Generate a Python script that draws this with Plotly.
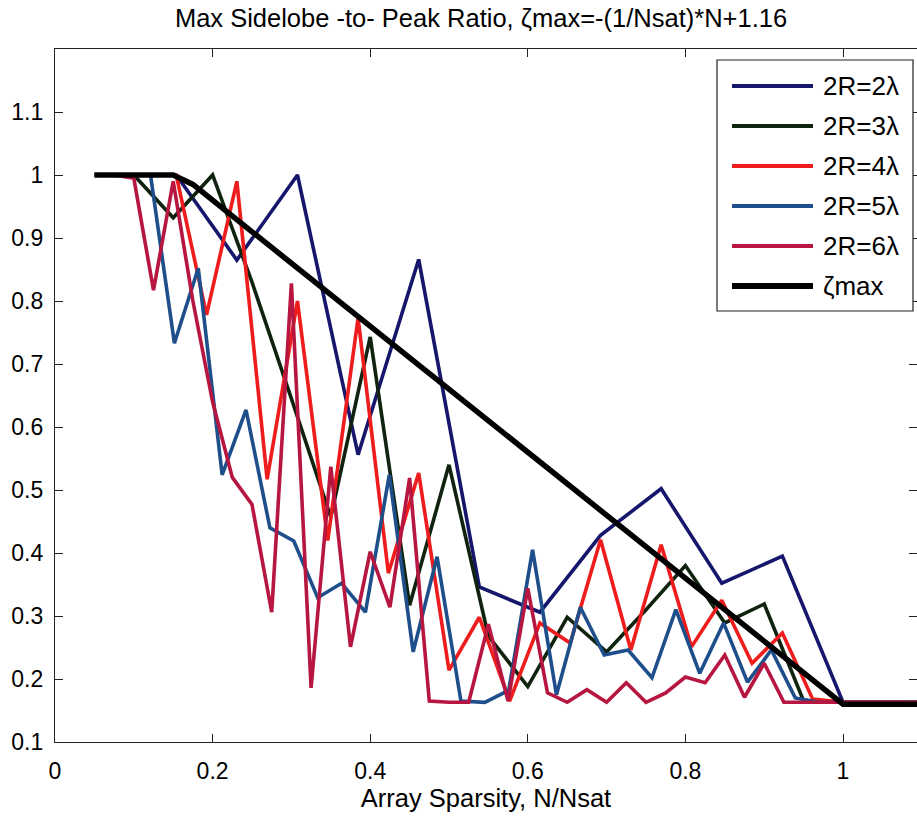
import plotly.graph_objects as go

# Sidelobe-to-peak ratio vs. array sparsity for several aperture diameters.
# Each curve is sampled at N = 2, 3, ... elements; x = N / Nsat.
NSAT_2 = 13
N_2 = list(range(2, 16))
R_2 = [1.0, 0.865, 1.0, 0.556, 0.866, 0.346, 0.306, 0.428, 0.502, 0.352,
       0.395, 0.163, 0.163, 0.163]

NSAT_3 = 20
N_3 = list(range(2, 23))
R_3 = [1.0, 0.932, 1.0, 0.83, 0.645, 0.457, 0.743, 0.317, 0.54, 0.268,
       0.188, 0.298, 0.243, 0.31, 0.38, 0.289, 0.319, 0.165, 0.163, 0.163,
       0.163]

NSAT_4 = 26
N_4 = list(range(2, 29))
R_4 = [1.0, 1.0, 1.0, 0.778, 0.99, 0.517, 0.80, 0.42, 0.773, 0.368,
       0.527, 0.214, 0.298, 0.165, 0.289, 0.257, 0.421, 0.246, 0.413, 0.251,
       0.325, 0.225, 0.273, 0.168, 0.163, 0.163, 0.163]

NSAT_5 = 33
N_5 = list(range(2, 37))
R_5 = [1.0, 1.0, 1.0, 0.733, 0.852, 0.524, 0.627, 0.44, 0.419, 0.329,
       0.352, 0.306, 0.524, 0.243, 0.394, 0.165, 0.163, 0.182, 0.405, 0.175,
       0.314, 0.238, 0.246, 0.202, 0.31, 0.209, 0.289, 0.195, 0.246, 0.17,
       0.163, 0.163, 0.163, 0.163, 0.163]

NSAT_6 = 40
N_6 = list(range(2, 45))
R_6 = [1.0, 1.0, 0.995, 0.817, 0.99, 0.80, 0.64, 0.52, 0.477, 0.306,
       0.828, 0.186, 0.537, 0.251, 0.402, 0.314, 0.519, 0.165, 0.163, 0.163,
       0.287, 0.165, 0.344, 0.178, 0.163, 0.183, 0.163, 0.194, 0.163, 0.178,
       0.203, 0.194, 0.238, 0.171, 0.225, 0.163, 0.163, 0.163, 0.163, 0.163,
       0.163, 0.163, 0.163]

# zeta_max = -(1/Nsat)*N + 1.16, limited to [0.16, 1]
N_Z = list(range(2, 45))
NSAT_Z = 40
ZETA = [1.0, 1.0, 1.0, 1.0, 1.0, 0.985, 0.96, 0.935, 0.91, 0.885,
        0.86, 0.835, 0.81, 0.785, 0.76, 0.735, 0.71, 0.685, 0.66, 0.635,
        0.61, 0.585, 0.56, 0.535, 0.51, 0.485, 0.46, 0.435, 0.41, 0.385,
        0.36, 0.335, 0.31, 0.285, 0.26, 0.235, 0.21, 0.185, 0.16, 0.16,
        0.16, 0.16, 0.16]

SERIES_NAMES = ["2R=2λ", "2R=3λ", "2R=4λ", "2R=5λ", "2R=6λ", "ζmax"]
X_TICKS = [0, 0.2, 0.4, 0.6, 0.8, 1]
X_TICK_TEXT = ["0", "0.2", "0.4", "0.6", "0.8", "1"]
Y_TICKS = [0.1, 0.2, 0.3, 0.4, 0.5, 0.6, 0.7, 0.8, 0.9, 1.0, 1.1]
Y_TICK_TEXT = ["0.1", "0.2", "0.3", "0.4", "0.5", "0.6", "0.7", "0.8", "0.9", "1", "1.1"]

series = [
    (N_2, NSAT_2, R_2),
    (N_3, NSAT_3, R_3),
    (N_4, NSAT_4, R_4),
    (N_5, NSAT_5, R_5),
    (N_6, NSAT_6, R_6),
    (N_Z, NSAT_Z, ZETA),
]
colors = ["#16166c", "#0f230f", "#ee1c1c", "#1e4f8b", "#b6163f", "#000000"]
widths = [3.6, 3.6, 3.6, 3.6, 3.6, 5.5]

FONT = "Liberation Sans, Arial, sans-serif"
W, H = 917, 818
ML, MR, MT, MB = 55, 0, 49, 76

fig = go.Figure()
for i, (ns, nsat, vals) in enumerate(series):
    xs = [n / nsat for n in ns]
    fig.add_trace(go.Scatter(
        x=xs, y=vals, mode="lines", name=SERIES_NAMES[i],
        line=dict(color=colors[i], width=widths[i]),
        showlegend=False, hoverinfo="skip",
        yaxis="y2" if i == len(series) - 1 else "y",
    ))

# Legend box drawn in paper coordinates
pw, ph = W - ML - MR, H - MT - MB


def px_x(p):
    return (p - ML) / pw


def px_y(p):
    return (H - MB - p) / ph


fig.add_shape(type="rect", xref="paper", yref="paper",
              x0=px_x(717), x1=px_x(913), y0=px_y(311), y1=px_y(60),
              line=dict(color="#222", width=1.2), fillcolor="white", layer="above")
for i, name in enumerate(SERIES_NAMES):
    yy = px_y(86 + 40 * i)
    fig.add_shape(type="line", xref="paper", yref="paper",
                  x0=px_x(732), x1=px_x(813), y0=yy, y1=yy,
                  line=dict(color=colors[i], width=widths[i] + 0.4), layer="above")
    fig.add_annotation(xref="paper", yref="paper", x=px_x(821), y=yy,
                       text=name, showarrow=False, xanchor="left", yanchor="middle",
                       font=dict(family=FONT, size=26, color="black"))

axis_common = dict(showgrid=False, zeroline=False, ticks="inside", ticklen=8,
                   tickcolor="#222", linecolor="#222", linewidth=1.2,
                   tickfont=dict(family=FONT, size=23, color="black"))

fig.update_layout(
    width=W, height=H,
    margin=dict(l=ML, r=MR, t=MT, b=MB),
    paper_bgcolor="white", plot_bgcolor="white",
    title=dict(text="Max Sidelobe -to- Peak Ratio, ζmax=-(1/Nsat)*N+1.16",
               x=481 / W, xref="container", xanchor="center",
               y=1 - 18 / H, yref="container", yanchor="middle",
               font=dict(family=FONT, size=25.5, color="black")),
    xaxis=dict(range=[0, (W - ML) / 788], tickvals=X_TICKS, ticktext=X_TICK_TEXT,
               showline=True, mirror="ticks", ticklabelstandoff=8,
               title=dict(text="Array Sparsity, N/Nsat", standoff=5,
                          font=dict(family=FONT, size=25.5, color="black")),
               **axis_common),
    yaxis=dict(range=[0.1, 1.2], tickvals=Y_TICKS, ticktext=Y_TICK_TEXT,
               showline=True, mirror=False, ticklabelstandoff=6, **axis_common),
    yaxis2=dict(range=[0.1, 1.2], overlaying="y", side="right", matches="y",
                tickvals=Y_TICKS, showticklabels=False, showline=False,
                showgrid=False, zeroline=False, ticks="inside", ticklen=8,
                tickcolor="#222"),
    font=dict(family=FONT, color="black"),
)

fig.write_html("out.html")
